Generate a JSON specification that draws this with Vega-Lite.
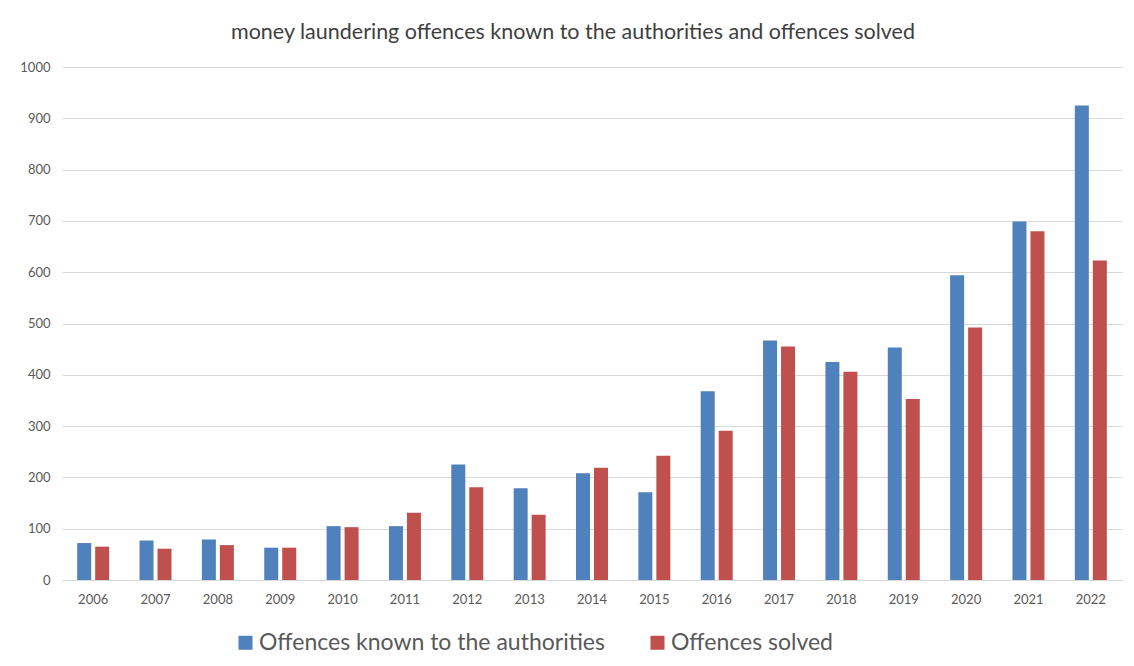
{
  "$schema": "https://vega.github.io/schema/vega-lite/v6.json",
  "width": 1060,
  "height": 513,
  "autosize": {"type": "none"},
  "padding": {"left": 62, "top": 67, "right": 12, "bottom": 86},
  "background": "white",
  "title": {
    "text": "money laundering offences known to the authorities and offences solved",
    "fontSize": 21.5,
    "font": "Lato",
    "fontWeight": "normal",
    "color": "#404040",
    "anchor": "middle",
    "offset": 18,
    "dx": -19
  },
  "data": {
    "values": [
      {"year": "2006", "series": "Offences known to the authorities", "value": 72},
      {"year": "2006", "series": "Offences solved", "value": 65},
      {"year": "2007", "series": "Offences known to the authorities", "value": 77},
      {"year": "2007", "series": "Offences solved", "value": 61},
      {"year": "2008", "series": "Offences known to the authorities", "value": 79},
      {"year": "2008", "series": "Offences solved", "value": 68},
      {"year": "2009", "series": "Offences known to the authorities", "value": 63},
      {"year": "2009", "series": "Offences solved", "value": 63},
      {"year": "2010", "series": "Offences known to the authorities", "value": 105},
      {"year": "2010", "series": "Offences solved", "value": 103},
      {"year": "2011", "series": "Offences known to the authorities", "value": 105},
      {"year": "2011", "series": "Offences solved", "value": 131},
      {"year": "2012", "series": "Offences known to the authorities", "value": 225},
      {"year": "2012", "series": "Offences solved", "value": 181},
      {"year": "2013", "series": "Offences known to the authorities", "value": 179},
      {"year": "2013", "series": "Offences solved", "value": 127},
      {"year": "2014", "series": "Offences known to the authorities", "value": 208},
      {"year": "2014", "series": "Offences solved", "value": 219},
      {"year": "2015", "series": "Offences known to the authorities", "value": 171},
      {"year": "2015", "series": "Offences solved", "value": 242},
      {"year": "2016", "series": "Offences known to the authorities", "value": 368},
      {"year": "2016", "series": "Offences solved", "value": 291},
      {"year": "2017", "series": "Offences known to the authorities", "value": 467},
      {"year": "2017", "series": "Offences solved", "value": 455},
      {"year": "2018", "series": "Offences known to the authorities", "value": 425},
      {"year": "2018", "series": "Offences solved", "value": 406},
      {"year": "2019", "series": "Offences known to the authorities", "value": 453},
      {"year": "2019", "series": "Offences solved", "value": 353},
      {"year": "2020", "series": "Offences known to the authorities", "value": 594},
      {"year": "2020", "series": "Offences solved", "value": 492},
      {"year": "2021", "series": "Offences known to the authorities", "value": 699},
      {"year": "2021", "series": "Offences solved", "value": 680},
      {"year": "2022", "series": "Offences known to the authorities", "value": 925},
      {"year": "2022", "series": "Offences solved", "value": 623}
    ]
  },
  "mark": {"type": "bar"},
  "encoding": {
    "x": {
      "field": "year",
      "type": "ordinal",
      "scale": {"paddingInner": 0.487, "paddingOuter": 0.2435},
      "axis": {
        "title": null,
        "labelAngle": 0,
        "ticks": false,
        "domainColor": "#d9d9d9",
        "labelFontSize": 13,
        "labelFont": "Lato",
        "labelColor": "#595959",
        "labelPadding": 13
      }
    },
    "xOffset": {
      "field": "series",
      "sort": ["Offences known to the authorities", "Offences solved"],
      "scale": {"paddingInner": 0.222, "paddingOuter": 0}
    },
    "y": {
      "field": "value",
      "type": "quantitative",
      "scale": {"domain": [0, 1000]},
      "axis": {
        "title": null,
        "values": [0, 100, 200, 300, 400, 500, 600, 700, 800, 900, 1000],
        "format": "d",
        "ticks": false,
        "domain": false,
        "gridColor": "#d9d9d9",
        "labelFontSize": 13,
        "labelFont": "Lato",
        "labelColor": "#595959",
        "labelPadding": 12
      }
    },
    "color": {
      "field": "series",
      "type": "nominal",
      "scale": {
        "domain": ["Offences known to the authorities", "Offences solved"],
        "range": ["#4f81bd", "#c0504d"]
      },
      "legend": {
        "title": null,
        "orient": "none",
        "legendX": 172,
        "legendY": 564,
        "direction": "horizontal",
        "symbolType": "square",
        "symbolSize": 196,
        "symbolStrokeWidth": 0,
        "labelFontSize": 23,
        "labelFont": "Lato",
        "labelColor": "#595959",
        "labelOffset": 2,
        "columnPadding": 41,
        "labelLimit": 500
      }
    }
  },
  "config": {"view": {"stroke": null}}
}
